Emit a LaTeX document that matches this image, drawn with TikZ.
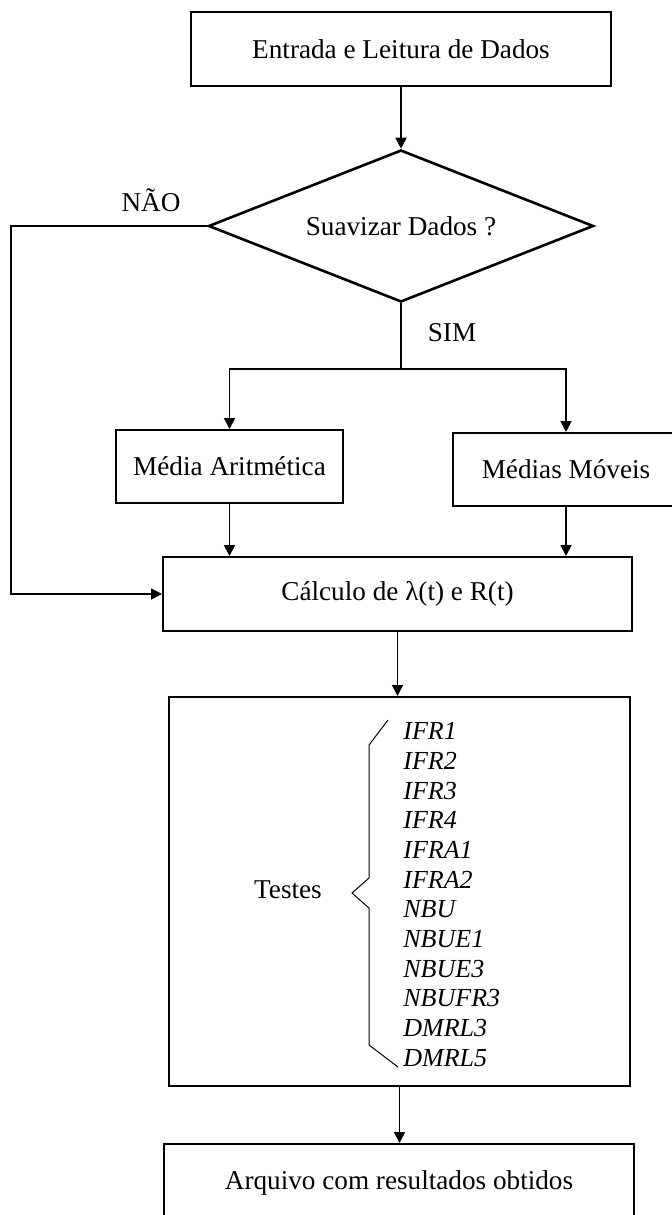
\documentclass[tikz,border=0pt]{standalone}
\usepackage{fontspec}
\setmainfont{Liberation Serif}
\usetikzlibrary{shapes.geometric,arrows.meta}
\begin{document}
\begin{tikzpicture}[x=0.5pt,y=-0.5pt,
  box/.style={draw,line width=1pt,inner sep=0pt,font=\fontsize{13.6}{15}\selectfont},
  arr/.style={line width=0.9pt,-{Triangle[length=5.5pt,width=5.5pt]}},
  conn/.style={line width=0.9pt},
  lbl/.style={font=\fontsize{13.6}{15}\selectfont,inner sep=0pt},
  brace/.style={line width=0.5pt}]
\useasboundingbox (0,0) rectangle (672,1215);
% nodes
\node[box,minimum width=210pt,minimum height=37pt] (top) at (401,49) {Entrada e Leitura de Dados};
\node[box,diamond,shape aspect=2.53,minimum width=192.5pt,minimum height=76pt,line width=1.3pt] (dia) at (401,226) {Suavizar Dados ?};
\node[box,minimum width=113.5pt,minimum height=36.5pt] (ma) at (229.5,466.5) {Média Aritmética};
\node[box,minimum width=113pt,minimum height=36.5pt] (mm) at (566,469.5) {Médias Móveis};
\node[box,minimum width=234.5pt,minimum height=37pt] (calc) at (397.5,594) {Cálculo de λ(t) e R(t)};
\node[box,minimum width=230.5pt,minimum height=194.5pt] (tst) at (399.5,891.5) {};
\node[box,anchor=north,minimum width=235pt,minimum height=38.5pt] (arq) at (399,1143) {Arquivo com resultados obtidos};
% labels
\node[lbl] (nao) at (151,200) {NÃO};
\node[lbl] (sim) at (452,333) {SIM};
\node[lbl] (testes) at (288,890) {Testes};
\node[lbl,anchor=west,align=left,font=\fontsize{13}{14.85}\selectfont\itshape] (lista) at (403,894.5)
  {IFR1\\IFR2\\IFR3\\IFR4\\IFRA1\\IFRA2\\NBU\\NBUE1\\NBUE3\\NBUFR3\\DMRL3\\DMRL5};
% brace
\draw[brace] (388,720) -- (369,745) -- (369,878) -- (352,893) -- (369,908) -- (369,1045) -- (398,1067);
% connectors
\draw[arr] (top.south) -- (dia.north);
\coordinate (nl) at (11,226);
\draw[arr] (dia.west) -- (nl) |- (calc.west);
\coordinate (j) at (401,369);
\draw[conn] (dia.south) -- (j);
\draw[arr] (j) -| (ma.north);
\draw[arr] (j) -| (mm.north);
\draw[arr] (ma.south) -- (ma.south |- calc.north);
\draw[arr] (mm.south) -- (mm.south |- calc.north);
\draw[arr] (calc.south) -- (calc.south |- tst.north);
\draw[arr] (tst.south) -- (tst.south |- arq.north);
\end{tikzpicture}
\end{document}
